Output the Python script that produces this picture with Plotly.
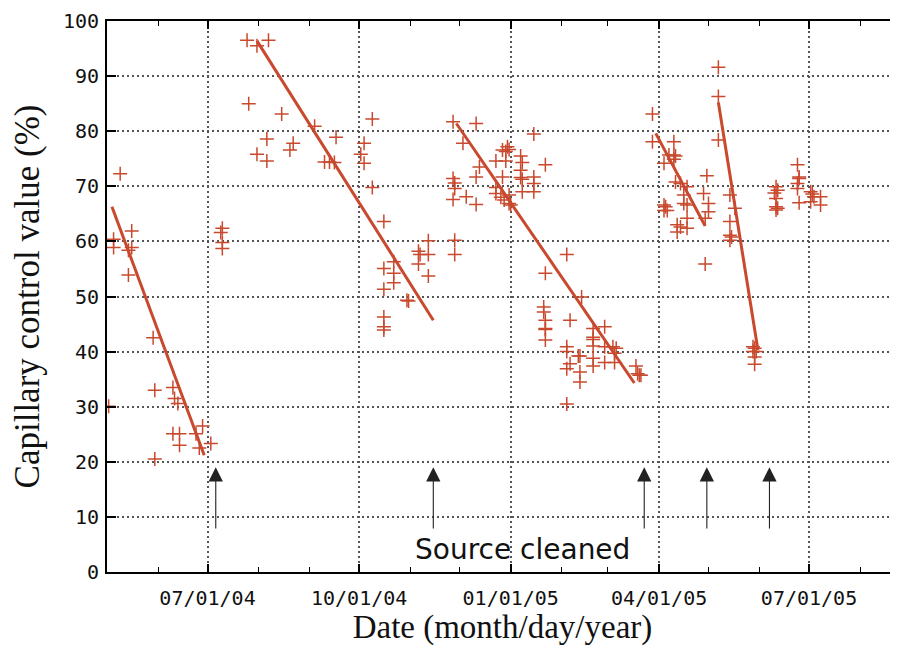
import plotly.graph_objects as go

# ---------------- data ----------------
dates = [
    # period 1
    "2004-05-09", "2004-05-05", "2004-05-05", "2004-05-16", "2004-05-16", "2004-05-14",
    "2004-05-14", "2004-05-29", "2004-05-30", "2004-06-10", "2004-06-11", "2004-06-13",
    "2004-05-02", "2004-06-10", "2004-06-14", "2004-06-14", "2004-06-28", "2004-06-24",
    "2004-06-26", "2004-07-03", "2004-05-30", "2004-07-10", "2004-07-09", "2004-07-10",
    "2004-07-10",
    # period 2
    "2004-07-25", "2004-07-31", "2004-08-07", "2004-07-26", "2004-08-15", "2004-09-04",
    "2004-08-06", "2004-08-22", "2004-08-20", "2004-07-31", "2004-08-06", "2004-09-17",
    "2004-09-10", "2004-09-13", "2004-09-16", "2004-10-09", "2004-10-04", "2004-10-02",
    "2004-10-04", "2004-10-09", "2004-10-16", "2004-11-12", "2004-11-06", "2004-11-12",
    "2004-11-07", "2004-11-06", "2004-11-12", "2004-10-22", "2004-10-16", "2004-10-22",
    "2004-10-22", "2004-10-16", "2004-10-30", "2004-10-31", "2004-10-16", "2004-10-16",
    "2004-10-16",
    # period 3
    "2004-11-27", "2004-12-11", "2004-12-03", "2005-01-15", "2004-12-30", "2004-12-31",
    "2004-12-27", "2004-12-29", "2004-12-23", "2004-12-29", "2005-01-07", "2005-01-08",
    "2005-01-07", "2005-01-07", "2005-01-08", "2005-01-22", "2004-12-13", "2004-12-11",
    "2004-12-27", "2005-01-15", "2005-01-15", "2005-01-15", "2005-01-08", "2004-11-27",
    "2004-11-28", "2004-11-28", "2004-11-27", "2004-12-05", "2004-12-11", "2004-12-23",
    "2004-12-23", "2004-12-26", "2004-12-28", "2004-12-31", "2004-12-31", "2005-01-01",
    "2004-11-28", "2004-11-28", "2005-02-04", "2005-01-22", "2005-02-13", "2005-01-21",
    "2005-01-21", "2005-01-22", "2005-01-22", "2005-01-22", "2005-01-22", "2005-02-06",
    "2005-02-20", "2005-02-27", "2005-02-20", "2005-02-20", "2005-02-20", "2005-02-27",
    "2005-03-04", "2005-03-05", "2005-03-06", "2005-02-04", "2005-02-04", "2005-02-11",
    "2005-02-12", "2005-02-20", "2005-02-20", "2005-02-27", "2005-03-05", "2005-02-06",
    "2005-02-04", "2005-02-12", "2005-02-12", "2005-02-04", "2005-03-18", "2005-03-19",
    "2005-03-20", "2005-03-21",
    # period 4
    "2005-05-07", "2005-05-07", "2005-03-28", "2005-03-28", "2005-04-10", "2005-05-07",
    "2005-04-07", "2005-04-10", "2005-04-11", "2005-04-10", "2005-04-04", "2005-04-11",
    "2005-04-14", "2005-04-18", "2005-04-16", "2005-04-16", "2005-04-18", "2005-04-30",
    "2005-04-28", "2005-05-01", "2005-05-01", "2005-04-29", "2005-04-04", "2005-04-05",
    "2005-04-04", "2005-04-06", "2005-04-18", "2005-04-12", "2005-04-14", "2005-04-12",
    "2005-04-18", "2005-04-29", "2005-05-14", "2005-05-17", "2005-05-14", "2005-05-14",
    "2005-05-15", "2005-05-14", "2005-05-28", "2005-05-29", "2005-05-28", "2005-05-30",
    "2005-05-29", "2005-05-29",
    # period 5
    "2005-06-11", "2005-06-12", "2005-06-10", "2005-06-11", "2005-06-11", "2005-06-12",
    "2005-06-11", "2005-06-24", "2005-06-25", "2005-06-25", "2005-06-24", "2005-06-24",
    "2005-06-25", "2005-07-02", "2005-07-03", "2005-07-04", "2005-07-02", "2005-07-08",
    "2005-07-08",
]
values = [
    # period 1
    72.3, 60.4, 58.9, 61.9, 58.9, 58.4,
    53.9, 42.5, 33.0, 33.5, 31.5, 30.6,
    30.1, 25.1, 25.1, 23.0, 26.5, 25.1,
    22.5, 23.3, 20.5, 62.4, 61.6, 59.8,
    58.7,
    # period 2
    96.5, 95.5, 96.5, 85.0, 83.1, 80.9,
    78.6, 77.8, 76.6, 75.8, 74.6, 78.9,
    74.4, 74.4, 74.3, 82.2, 77.8, 75.8,
    74.2, 69.8, 63.6, 60.1, 58.2, 57.6,
    57.6, 55.9, 53.7, 56.3, 55.1, 54.2,
    52.5, 51.3, 49.3, 49.2, 46.3, 44.5,
    43.9,
    # period 3
    81.7, 81.4, 77.8, 79.5, 77.2, 76.7,
    76.6, 76.3, 74.6, 74.6, 75.5, 74.3,
    72.9, 71.6, 71.3, 73.9, 73.5, 71.7,
    71.7, 71.7, 70.5, 69.0, 69.0, 71.4,
    70.6, 69.6, 67.6, 68.1, 66.7, 69.8,
    68.7, 68.0, 67.5, 68.4, 66.9, 66.6,
    60.2, 57.6, 57.6, 54.2, 49.9, 48.1,
    47.2, 45.7, 44.2, 44.0, 42.1, 45.7,
    44.2, 44.5, 42.6, 42.2, 41.0, 40.9,
    40.9, 39.7, 40.6, 40.9, 40.0, 39.2,
    39.2, 38.8, 37.4, 38.0, 38.0, 37.8,
    36.9, 36.3, 34.5, 30.5, 37.4, 36.0,
    35.7, 35.7,
    # period 4
    91.6, 86.3, 83.1, 78.1, 78.1, 78.4,
    75.7, 75.7, 75.5, 74.9, 74.2, 70.8,
    70.5, 69.9, 68.4, 66.9, 66.6, 71.9,
    68.7, 66.9, 65.4, 64.2, 66.6, 66.3,
    65.6, 65.6, 64.2, 63.0, 62.6, 61.7,
    62.4, 55.9, 68.4, 66.0, 63.6, 61.1,
    60.8, 60.2, 40.9, 40.6, 40.0, 40.0,
    39.0, 37.7,
    # period 5
    69.9, 69.3, 68.8, 67.8, 66.3, 66.0,
    65.7, 73.9, 71.7, 71.4, 70.5, 69.6,
    67.0, 69.0, 68.6, 68.1, 67.2, 68.1,
    66.6,
]

# fitted trend lines (start / end)
trend_start_dates = ["2004-05-04", "2004-07-31", "2004-11-29", "2005-03-30", "2005-05-07"]
trend_start_values = [66.3, 96.4, 81.4, 79.6, 85.2]
trend_end_dates = ["2004-06-29", "2004-11-15", "2005-03-17", "2005-04-29", "2005-05-31"]
trend_end_values = [21.2, 45.7, 34.3, 62.8, 40.3]

# source cleaning events
cleaned_dates = ["2004-07-06", "2004-11-15", "2005-03-23", "2005-04-30", "2005-06-07"]
arrow_tip = 19.0
arrow_tail = 7.6
cleaned_label = "Source cleaned"

x_range = ["2004-05-01", "2005-08-24"]
y_range = [0, 100]

RED = "#c8492d"

fig = go.Figure()

fig.add_trace(go.Scatter(
    x=dates, y=values, mode="markers",
    marker=dict(symbol="cross-thin", size=10, color=RED,
                line=dict(width=1.5, color=RED)),
    showlegend=False, hoverinfo="x+y",
))

for sd, sv, ed, ev in zip(trend_start_dates, trend_start_values,
                          trend_end_dates, trend_end_values):
    fig.add_trace(go.Scatter(
        x=[sd, ed], y=[sv, ev], mode="lines",
        line=dict(color=RED, width=3), showlegend=False,
    ))

for d in cleaned_dates:
    fig.add_annotation(
        x=d, y=arrow_tip, ax=d, ay=arrow_tail, axref="x", ayref="y",
        xref="x", yref="y", text="", showarrow=True,
        arrowhead=2, arrowsize=2.6, arrowwidth=1.1, arrowcolor="#222222",
    )

fig.add_annotation(
    x="2005-01-08", y=4.1, xref="x", yref="y", text=cleaned_label,
    showarrow=False, font=dict(family="DejaVu Sans", size=28, color="#111111"),
)

tick_font = dict(family="DejaVu Sans Mono", size=20, color="#111111")
title_font_x = dict(family="Liberation Serif", size=33, color="#111111")
title_font_y = dict(family="Liberation Serif", size=35, color="#111111")

# page body has an 8px margin: figure sized to fit 898x646 window exactly
fig.update_layout(
    width=890, height=638,
    margin=dict(l=99, r=0, t=13, b=74),
    paper_bgcolor="white", plot_bgcolor="white",
    xaxis=dict(
        type="date", range=x_range,
        tickformat="%m/%d/%y", dtick="M3", tick0="2004-01-01",
        ticks="inside", ticklen=8, tickwidth=1.5, tickcolor="black",
        mirror="ticks", showline=True, linecolor="black", linewidth=2,
        showgrid=True, gridcolor="#555555", gridwidth=1.5, griddash="2px,3px",
        minor=dict(dtick="M1", ticks="inside", ticklen=5, tickwidth=1.2,
                   tickcolor="black", showgrid=False),
        tickfont=tick_font, ticklabelstandoff=7,
        title=dict(text="Date (month/day/year)", font=title_font_x, standoff=10),
        automargin=False, zeroline=False,
    ),
    yaxis=dict(
        range=y_range, dtick=10, tick0=0,
        ticks="inside", ticklen=9, tickwidth=1.5, tickcolor="black",
        showline=True, linecolor="black", linewidth=2, mirror=False,
        showgrid=True, gridcolor="#555555", gridwidth=1.5, griddash="2px,3px",
        tickfont=tick_font, ticklabelstandoff=2,
        title=dict(text="Capillary control value (%)", font=title_font_y, standoff=15),
        automargin=False, zeroline=False,
    ),
)

fig.write_html("out.html")
